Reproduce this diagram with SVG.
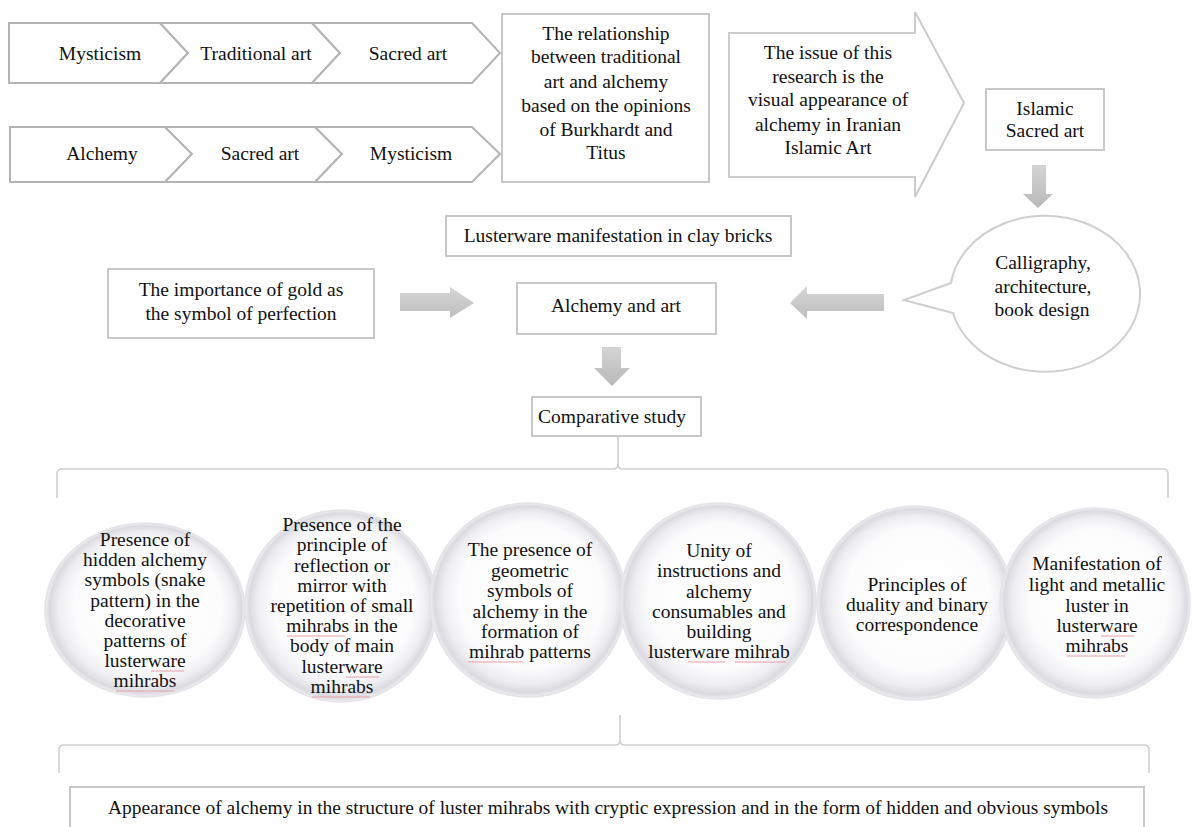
<svg xmlns="http://www.w3.org/2000/svg" width="1192" height="827" viewBox="0 0 1192 827">
<style>
text{font-family:'Liberation Serif',serif;font-size:19.5px;fill:#111;text-anchor:middle}
.box{fill:#fff;stroke:#c8c8c8;stroke-width:2}
.chev{fill:#fff;stroke:#b4b4b4;stroke-width:2;stroke-linejoin:miter}
.arr{fill:url(#ag);stroke:none}
.arrv{fill:url(#agv);stroke:none}
.brace{fill:none;stroke:#cfcfcf;stroke-width:1.6}
.sph{fill:url(#sg);stroke:#e4e4e7;stroke-width:1.5}
.sq{fill:none;stroke:#e8a0a8;stroke-width:1}
</style>
<defs>
<linearGradient id="ag" x1="0" y1="0" x2="0" y2="1"><stop offset="0" stop-color="#d6d6d6"/><stop offset="1" stop-color="#bdbdbd"/></linearGradient>
<linearGradient id="agv" x1="0" y1="0" x2="0" y2="1"><stop offset="0" stop-color="#d4d4d4"/><stop offset="1" stop-color="#b8b8b8"/></linearGradient>
<radialGradient id="sg" cx="0.5" cy="0.5" r="0.5" fx="0.56" fy="0.42">
<stop offset="0" stop-color="#ffffff"/><stop offset="0.74" stop-color="#fcfcfd"/><stop offset="0.88" stop-color="#eeeef2"/><stop offset="0.96" stop-color="#dadae0"/><stop offset="1" stop-color="#efeff2"/>
</radialGradient>
</defs>
<g id="row1">
<g id="n-mysticism1"><polygon class="chev" points="9,23 160,23 188,53 160,83 9,83"/><text x="100" y="60">Mysticism</text></g>
<g id="n-traditional"><polygon class="chev" points="160,23 312,23 340,53 312,83 160,83 188,53"/><text x="256" y="60">Traditional art</text></g>
<g id="n-sacred1"><polygon class="chev" points="312,23 472,23 500,53 472,83 312,83 340,53"/><text x="408" y="60">Sacred art</text></g>
</g>
<g id="row2">
<g id="n-alchemy"><polygon class="chev" points="10,127 165,127 192,154 165,182 10,182"/><text x="102" y="160">Alchemy</text></g>
<g id="n-sacred2"><polygon class="chev" points="165,127 315,127 342,154 315,182 165,182 192,154"/><text x="260" y="160">Sacred art</text></g>
<g id="n-mysticism2"><polygon class="chev" points="315,127 472,127 500,154 472,182 315,182 342,154"/><text x="411" y="160">Mysticism</text></g>
</g>

<g id="n-relationship"><rect class="box" x="502" y="14" width="207" height="168"/>
<text x="606" y="40">The relationship</text><text x="606" y="63">between traditional</text><text x="606" y="88">art and alchemy</text><text x="606" y="112">based on the opinions</text><text x="606" y="136">of Burkhardt and</text><text x="606" y="159">Titus</text></g>

<g id="n-issue"><polygon points="729,33 915,33 915,12 964,103 915,197 915,177 729,177" fill="#fff" stroke="#cccccc" stroke-width="2"/>
<text x="828" y="59">The issue of this</text><text x="828" y="83">research is the</text><text x="828" y="106">visual appearance of</text><text x="828" y="131">alchemy in Iranian</text><text x="828" y="154">Islamic Art</text></g>

<g id="n-islamic"><rect class="box" x="986" y="89" width="118" height="61"/><text x="1045" y="115">Islamic</text><text x="1045" y="137">Sacred art</text></g>

<g id="n-calligraphy"><path d="M951,283 L904,300 L953,313 A95,78 0 1 0 951,283 Z" fill="#fff" stroke="#cfcfcf" stroke-width="2"/>
<text x="1043" y="269">Calligraphy,</text><text x="1043" y="293">architecture,</text><text x="1042" y="316">book design</text></g>

<g id="n-lusterware"><rect class="box" x="446" y="216" width="345" height="40"/><text x="618" y="242">Lusterware manifestation in clay bricks</text></g>

<g id="n-gold"><rect class="box" x="108" y="269" width="266" height="69"/><text x="241" y="296">The importance of gold as</text><text x="241" y="320">the symbol of perfection</text></g>

<g id="n-alchemyart"><rect class="box" x="517" y="283" width="199" height="51"/><text x="616" y="312">Alchemy and art</text></g>

<g id="n-comparative"><rect class="box" x="532" y="397" width="169" height="39"/><text x="612" y="423">Comparative study</text></g>

<g id="connectors">
<polygon class="arrv" points="1032,165 1046,165 1046,194 1053,194 1038,208 1023,194 1032,194"/>
<polygon class="arr" points="790,303 807,286 807,294 884,294 884,311 807,311 807,319"/>
<polygon class="arr" points="400,293 450,293 450,287 474,303 450,318 450,311 400,311"/>
<polygon class="arrv" points="602,347 621,347 621,368 630,368 612,386 594,368 602,368"/>
<path class="brace" d="M57,498 V474 Q57,469 62,469 H613 Q618,469 618,464 V437 M618,464 Q618,469 623,469 H1163 Q1168,469 1168,474 V498"/>
<path class="brace" d="M59,773 V750 Q59,745 64,745 H615 Q620,745 620,740 V715 M620,740 Q620,745 625,745 H1144 Q1149,745 1149,750 V773"/>
</g>

<g id="n-c1"><ellipse class="sph" cx="145" cy="610" rx="100" ry="87"/>
<text x="145" y="546">Presence of</text><text x="145" y="566">hidden alchemy</text><text x="145" y="586">symbols (snake</text><text x="145" y="607">pattern) in the</text><text x="145" y="627">decorative</text><text x="145" y="647">patterns of</text><text x="145" y="667">lusterware</text><text x="145" y="687">mihrabs</text>
<path class="sq" d="M151,671 h33 M116,691 h58"/></g>

<g id="n-c2"><ellipse class="sph" cx="341" cy="606" rx="96" ry="96"/>
<text x="342" y="531">Presence of the</text><text x="342" y="551">principle of</text><text x="342" y="572">reflection or</text><text x="342" y="592">mirror with</text><text x="342" y="612">repetition of small</text><text x="342" y="632">mihrabs in the</text><text x="342" y="652">body of main</text><text x="342" y="673">lusterware</text><text x="342" y="693">mihrabs</text>
<path class="sq" d="M287,636 h58 M346,677 h33 M312,697 h58"/></g>

<g id="n-c3"><ellipse class="sph" cx="528" cy="600" rx="98" ry="97"/>
<text x="530" y="556">The presence of</text><text x="530" y="577">geometric</text><text x="530" y="597">symbols of</text><text x="530" y="618">alchemy in the</text><text x="530" y="638">formation of</text><text x="530" y="658">mihrab patterns</text>
<path class="sq" d="M468,662 h55"/></g>

<g id="n-c4"><ellipse class="sph" cx="718" cy="601" rx="98" ry="98"/>
<text x="719" y="557">Unity of</text><text x="719" y="577">instructions and</text><text x="719" y="598">alchemy</text><text x="719" y="618">consumables and</text><text x="719" y="638">building</text><text x="719" y="658">lusterware mihrab</text>
<path class="sq" d="M688,662 h37 M735,662 h51"/></g>

<g id="n-c5"><ellipse class="sph" cx="915" cy="603" rx="98" ry="97"/>
<text x="917" y="591">Principles of</text><text x="917" y="611">duality and binary</text><text x="917" y="631">correspondence</text></g>

<g id="n-c6"><ellipse class="sph" cx="1095" cy="603" rx="95" ry="95"/>
<text x="1097" y="570">Manifestation of</text><text x="1097" y="591">light and metallic</text><text x="1097" y="612">luster in</text><text x="1097" y="632">lusterware</text><text x="1097" y="652">mihrabs</text>
<path class="sq" d="M1101,636 h33 M1067,656 h58"/></g>

<g id="n-appearance"><path d="M70,827 V787 H1144 V827" fill="#fff" stroke="#c8c8c8" stroke-width="2"/>
<text x="608" y="814" textLength="1000" lengthAdjust="spacingAndGlyphs">Appearance of alchemy in the structure of luster mihrabs with cryptic expression and in the form of hidden and obvious symbols</text></g>
</svg>
